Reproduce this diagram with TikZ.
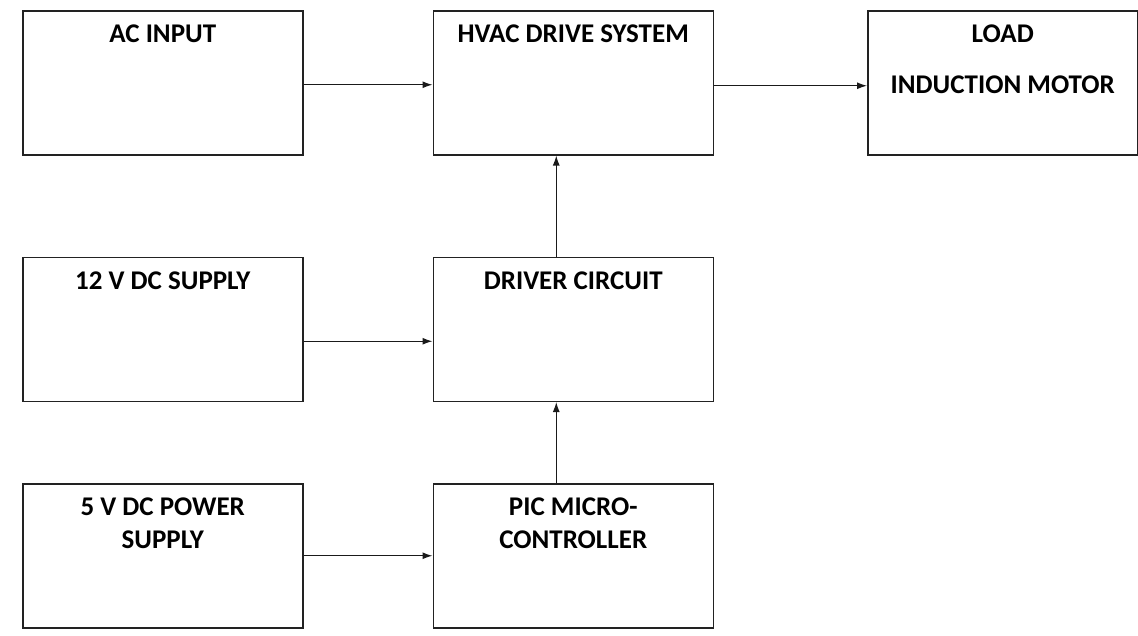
\documentclass[tikz,border=0pt]{standalone}
\usepackage{fontspec}
\setmainfont{Carlito}
\usepackage{tikz}
\usetikzlibrary{arrows.meta,positioning}
\definecolor{boxline}{HTML}{222222}
\definecolor{wire}{HTML}{1A1A1A}
\tikzset{
  blockbox/.style={
    draw=boxline, line width=1.5pt, minimum width=280pt,
    inner xsep=4pt, inner ysep=0pt, align=center,
    text height=32pt, text depth=112pt,
    font=\bfseries\fontsize{27}{33}\selectfont,
  },
  twoline/.style={text height=65pt, text depth=79pt},
  loadline/.style={text height=83pt, text depth=61pt},
  arrow/.style={-{Latex[length=10pt,width=7pt]}, line width=1.3pt, color=wire},
}
\begin{document}
\begin{tikzpicture}[x=1pt, y=-1pt]
  \useasboundingbox[fill=white] (0,0) rectangle (1138,635);

  \node[blockbox, anchor=north west] (acin) at (22,10) {AC INPUT};
  \node[blockbox, right=129pt of acin] (hvac) {HVAC DRIVE SYSTEM};
  \node[blockbox, loadline, minimum width=270pt, right=153pt of hvac] (load)
    {LOAD\\[18pt]INDUCTION MOTOR};

  \node[blockbox, below=101pt of acin] (dc12) {12 V DC SUPPLY};
  \node[blockbox, right=129pt of dc12] (drv) {DRIVER CIRCUIT};

  \node[blockbox, twoline, below=81pt of dc12] (dc5) {5 V DC POWER\\SUPPLY};
  \node[blockbox, twoline, right=129pt of dc5] (pic) {PIC MICRO-\\CONTROLLER};

  \draw[arrow] ([yshift=-2pt]acin.east) -- ([yshift=-2pt]hvac.west);
  \draw[arrow] ([yshift=-3pt]hvac.east) -- ([yshift=-3pt]load.west);
  \draw[arrow] ([yshift=-12pt]dc12.east) -- ([yshift=-12pt]drv.west);
  \draw[arrow] (dc5.east) -- (pic.west);
  \draw[arrow] ([xshift=-17pt]drv.north) -- ([xshift=-17pt]hvac.south);
  \draw[arrow] ([xshift=-17pt]pic.north) -- ([xshift=-17pt]drv.south);

\end{tikzpicture}
\end{document}
